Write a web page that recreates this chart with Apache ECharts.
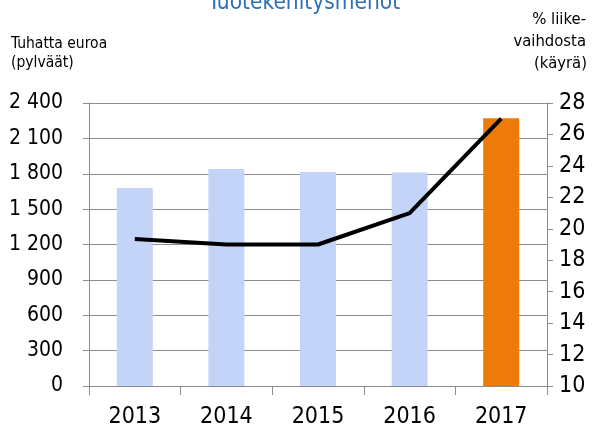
<!DOCTYPE html>
<html>
<head>
<meta charset="utf-8">
<script src="https://cdn.jsdelivr.net/npm/echarts@6/dist/echarts.min.js"></script>
<style>
html,body{margin:0;padding:0;background:#fff;}
#c{width:598px;height:437px;}
</style>
</head>
<body>
<div id="c"></div>
<script>
var years = ['2013', '2014', '2015', '2016', '2017'];
var expenses = [1680, 1840, 1815, 1810, 2270];   // tuhatta euroa (pylväät)
var pctOfRevenue = [19.35, 19.0, 19.0, 21.0, 27.0]; // % liikevaihdosta (käyrä)
var leftTicks = [0, 2400, 300];
var rightTicks = [10, 28, 2];

var FONT = 'DejaVu Sans Condensed, DejaVu Sans, sans-serif';
var GRID = '#8c8c8c';

var barData = expenses.map(function (v, i) {
  return {
    value: v,
    itemStyle: { color: i === expenses.length - 1 ? '#EE7A0A' : '#C4D4F8' }
  };
});

var chart = echarts.init(document.getElementById('c'), null, { renderer: 'canvas' });
chart.setOption({
  animation: false,
  backgroundColor: '#fff',
  grid: { left: 89, right: 51, top: 103, bottom: 51 },
  xAxis: {
    type: 'category',
    data: years,
    boundaryGap: true,
    axisLine: { show: true, lineStyle: { color: GRID, width: 1 } },
    axisTick: { show: true, length: 9, lineStyle: { color: GRID } },
    axisLabel: { color: '#000', fontSize: 23, fontFamily: FONT, margin: 20 }
  },
  yAxis: [{
    type: 'value',
    min: leftTicks[0], max: leftTicks[1], interval: leftTicks[2],
    axisLine: { show: true, lineStyle: { color: GRID } },
    axisTick: { show: true, length: 6, lineStyle: { color: GRID } },
    splitLine: { show: true, lineStyle: { color: GRID, width: 1 } },
    axisLabel: {
      color: '#000', fontSize: 21, fontFamily: FONT, margin: 26,
      formatter: function (v) { return String(v).replace(/\B(?=(\d{3})+(?!\d))/g, ' '); }
    }
  }, {
    type: 'value',
    position: 'right',
    min: rightTicks[0], max: rightTicks[1], interval: rightTicks[2],
    axisLine: { show: true, lineStyle: { color: GRID } },
    axisTick: { show: true, length: 6, lineStyle: { color: GRID } },
    splitLine: { show: false },
    axisLabel: { color: '#000', fontSize: 23, fontFamily: FONT, margin: 12 }
  }],
  series: [{
    type: 'bar',
    data: barData,
    barWidth: 36,
    yAxisIndex: 0
  }, {
    type: 'line',
    data: pctOfRevenue,
    yAxisIndex: 1,
    showSymbol: false,
    symbol: 'none',
    lineStyle: { color: '#000', width: 4 },
    z: 5
  }],
  graphic: [
    { type: 'text', x: 304, y: 3, style: { text: 'Tuotekehitysmenot', fill: '#2F6FB3', font: '22.5px ' + FONT, textAlign: 'center', textVerticalAlign: 'middle' } },
    { type: 'text', x: 11, y: 44, style: { text: 'Tuhatta euroa', fill: '#000', font: '15.5px ' + FONT, textAlign: 'left', textVerticalAlign: 'middle' } },
    { type: 'text', x: 11, y: 63, style: { text: '(pylväät)', fill: '#000', font: '15.5px ' + FONT, textAlign: 'left', textVerticalAlign: 'middle' } },
    { type: 'text', x: 586, y: 20, style: { text: '% liike-', fill: '#000', font: '16.5px ' + FONT, textAlign: 'right', textVerticalAlign: 'middle' } },
    { type: 'text', x: 586, y: 42, style: { text: 'vaihdosta', fill: '#000', font: '16.5px ' + FONT, textAlign: 'right', textVerticalAlign: 'middle' } },
    { type: 'text', x: 587, y: 64, style: { text: '(käyrä)', fill: '#000', font: '16.5px ' + FONT, textAlign: 'right', textVerticalAlign: 'middle' } }
  ]
});
</script>
</body>
</html>
